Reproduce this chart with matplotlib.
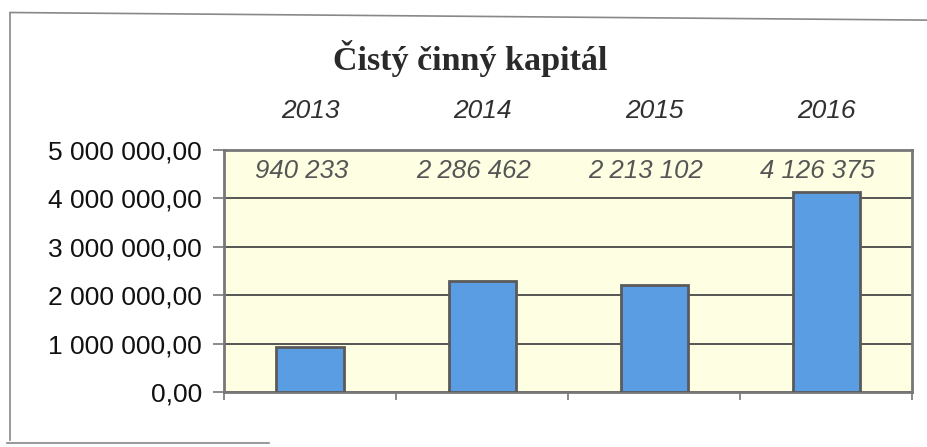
import matplotlib.pyplot as plt
from matplotlib.lines import Line2D
from matplotlib.ticker import FuncFormatter

# Data
roky = ['2013', '2014', '2015', '2016']
hodnoty = [940233, 2286462, 2213102, 4126375]
popisky = ['940 233', '2 286 462', '2 213 102', '4 126 375']
y_ticks = [0, 1000000, 2000000, 3000000, 4000000, 5000000]


def format_cz(v, pos=None):
    """ Formát čísla po česku: mezery jako oddělovač tisíců, čárka """
    s = f"{v:,.2f}"
    return s.replace(',', ' ').replace('.', ',')


fig = plt.figure(figsize=(9.28, 4.47), dpi=100)
ax = fig.add_axes([0.2414, 0.123, 0.7415, 0.5414])
ax.set_facecolor('#fefee3')

x = list(range(len(roky)))
ax.bar(x, hodnoty, width=0.39, color='#5b9de2', edgecolor='#5a5a5a',
       linewidth=2, zorder=3)

ax.set_xlim(-0.5, 3.5)
ax.set_ylim(0, 5000000)
ax.set_yticks(y_ticks)
ax.yaxis.set_major_formatter(FuncFormatter(format_cz))
ax.set_xticks([-0.5, 0.5, 1.5, 2.5, 3.5])
ax.set_xticklabels([])
ax.grid(axis='y', color='#555555', linewidth=1.4, zorder=1)

for s in ax.spines.values():
    s.set_color('#777777')
    s.set_linewidth(2)
ax.tick_params(axis='y', length=8, width=1.2, color='#777777',
               labelsize=19, pad=8, labelcolor='#111111')
ax.tick_params(axis='x', length=6, width=1.2, color='#777777')
for lab in ax.get_yticklabels():
    lab.set_fontfamily('Liberation Sans')

# Roky nad grafem a hodnoty v horním pásu
for i in x:
    ax.text(i, 5800000, roky[i], ha='center', va='center', fontsize=19,
            style='italic', color='#303030', family='Liberation Sans',
            clip_on=False)
    ax.text(i - 0.05, 4560000, popisky[i], ha='center', va='center',
            fontsize=18.5, style='italic', color='#555555',
            family='Liberation Sans')

fig.text(0.507, 0.87, 'Čistý činný kapitál', ha='center', va='center',
         fontsize=24.5, fontweight='bold', family='Liberation Serif',
         color='#2a2a2a')

# Rámeček kolem grafu
fig.add_artist(Line2D([0.011, 0.011], [0.015, 0.972], color='#888888',
                      linewidth=1.2, transform=fig.transFigure))
fig.add_artist(Line2D([0.011, 1.0], [0.972, 0.955], color='#888888',
                      linewidth=1.2, transform=fig.transFigure))
fig.add_artist(Line2D([0.008, 0.29], [0.009, 0.009], color='#888888',
                      linewidth=1.2, transform=fig.transFigure))

fig.savefig('out.png', dpi=100)
